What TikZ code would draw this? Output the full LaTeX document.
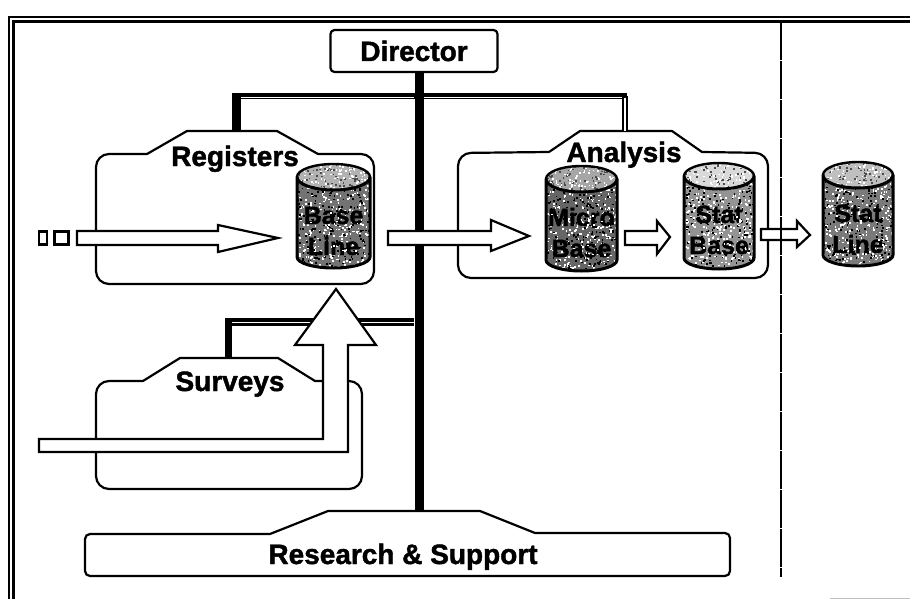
\documentclass[tikz,border=0pt]{standalone}
\usepackage{fontspec}
\newfontfamily\labf[BoldFeatures={FakeBold=1.5}]{Liberation Sans}
\tikzset{
  x=1pt,y=-1pt,
  panel/.style={draw=black,line width=2.2pt,fill=white,line join=round},
  block/.style={draw=black,line width=2.2pt,fill=white,line join=miter},
  lab/.style={font=\labf\bfseries\fontsize{28}{28}\selectfont,anchor=base,inner sep=0pt,text=black},
  cyltext/.style={font=\labf\bfseries\fontsize{25}{25}\selectfont,anchor=base,inner sep=0pt,text=black},
  thickbar/.style={draw=black,line width=9pt},
}
\newcommand{\specks}[6]{% x y w h count colour
  \foreach \i in {1,...,#5}{
    \pgfmathsetmacro{\sx}{#1+rnd*#3}
    \pgfmathsetmacro{\sy}{#2+rnd*#4}
    \fill[#6] (\sx,\sy) rectangle ++(1.7,1.7);
  }}
% name, left x, top y, width, height, top shade, body shade, line1, line2
\newcommand{\cyl}[9]{%
  \begin{scope}
    \clip (#2,#3+13) arc[x radius=#4/2,y radius=13,start angle=180,end angle=0]
      -- (#2+#4,#3+#5-11) arc[x radius=#4/2,y radius=11,start angle=0,end angle=180] -- cycle;
    \fill[black!#7] (#2,#3) rectangle ++(#4,#5);
    \specks{#2}{#3+10}{#4}{#5-10}{300}{white}
    \specks{#2}{#3+10}{#4}{#5-10}{240}{black}
    \node[cyltext] (#1a) at (#2+#4/2,#3+60) {#8};
    \node[cyltext] (#1b) at (#2+#4/2,#3+91) {#9};
    \specks{#2+4}{#3+40}{#4-8}{56}{35}{white}
  \end{scope}
  \begin{scope}
    \clip (#2,#3+13) arc[x radius=#4/2,y radius=13,start angle=180,end angle=0]
      arc[x radius=#4/2,y radius=13,start angle=0,end angle=-180] -- cycle;
    \fill[black!#6] (#2,#3) rectangle ++(#4,28);
    \specks{#2}{#3}{#4}{28}{70}{black!70}
    \specks{#2}{#3}{#4}{28}{90}{white}
  \end{scope}
  \draw[line width=3pt,line join=round] (#2,#3+13) arc[x radius=#4/2,y radius=13,start angle=180,end angle=0]
      -- (#2+#4,#3+#5-11) arc[x radius=#4/2,y radius=11,start angle=0,end angle=180] -- cycle;
  \draw[line width=2.4pt] (#2,#3+13) arc[x radius=#4/2,y radius=13,start angle=180,end angle=360];
}
\begin{document}
\begin{tikzpicture}
\pgfmathsetseed{4217}
\useasboundingbox (0,0) rectangle (910,599);
\fill[white] (0,0) rectangle (910,599);

% frame
\draw[line width=2.4pt] (9,599) -- (9,17) -- (910,17);
\draw[line width=2.4pt] (13.5,599) -- (13.5,21.5) -- (910,21.5);
\draw[line width=1pt,black!25] (830,598.5) -- (910,598.5);

% panels
\draw[panel] (147,154) -- (187,131) -- (277,131) -- (318,154) [rounded corners=13] -- (374,154) -- (374,284) -- (96,284) -- (96,154) -- (147,154);
\draw[panel] (549,152) -- (580,131) -- (672,131) -- (702,152) [rounded corners=13] -- (768,153) -- (768,278) -- (458,278) -- (458,153) -- (549,152);
\draw[panel] (143,381) -- (180,358) -- (278,358) -- (315,381) [rounded corners=13] -- (362,381) -- (362,489) -- (96,489) -- (96,381) -- (143,381);
\draw[panel] (270,534) -- (328,511) -- (480,511) -- (535,533) [rounded corners=5] -- (730,533) -- (730,576) -- (85,576) -- (85,534) -- (270,534);
\node[panel,minimum width=167pt,minimum height=42pt,rounded corners=4pt,inner sep=0pt] (director) at (414,51) {};

% connector anchors
\coordinate (trunktop) at (419,72);
\coordinate (trunkbot) at (419,511);
\coordinate (regbus) at (236.5,96.5);
\coordinate (regtop) at (236.5,131);
\coordinate (anabus) at (625,96.5);
\coordinate (anatop) at (625,131);
\coordinate (surbus) at (228,322);
\coordinate (surtop) at (228,358);

% connectors
\draw[thickbar] (trunktop) -- (trunkbot);
\draw[black,line width=9pt] (regbus) ++(0,-1) -- (regtop);
\draw[line width=6pt] (232,96.5) -- (627,96.5);
\draw[white,line width=1.2pt] (241,97.5) -- (414,97.5);
\draw[white,line width=1.2pt] (424,97.5) -- (622,97.5);
\draw[line width=6pt] (anabus) -- (anatop);
\draw[white,line width=1.4pt] (anabus) ++(0,1.5) -- (anatop);
\draw[line width=7pt] (surbus) ++(0,-4) -- (surtop);
\draw[line width=8pt] (225,322) -- (414,322);
\draw[white,line width=1.4pt] (232,322.5) -- (414,322.5);

% labels
\node[lab] (director text) at (414,61) {Director};
\node[lab] (registers) at (235,166) {Registers};
\node[lab] (analysis) at (624,162) {Analysis};
\node[lab] (surveys) at (230,391) {Surveys};
\node[lab] (research) at (403,564) {Research \& Support};

% cylinders
\cyl{baseline}{297}{164}{73}{104}{30}{55}{Base}{Line}
\cyl{microbase}{546}{166}{71}{105}{35}{60}{Micro}{Base}
\cyl{statbase}{684}{163}{70}{106}{15}{42}{Stat}{Base}
\cyl{statline}{823}{162}{70}{104}{25}{52}{Stat}{Line}

% small squares
\node[block,minimum width=8pt,minimum height=13pt,inner sep=0pt] (sq1) at (43,238) {};
\node[block,minimum width=14pt,minimum height=13pt,inner sep=0pt] (sq2) at (61.5,238) {};

% arrows
\draw[block] (77,231) -- (218,231) -- (218,225) -- (278,238) -- (218,252) -- (218,245) -- (77,245) -- cycle;
\draw[block] (388,231) -- (491,231) -- (491,220) -- (529,236) -- (491,251) -- (491,245) -- (388,245) -- cycle;
\draw[block] (625,231) -- (657,231) -- (657,221) -- (670,237) -- (657,254) -- (657,245) -- (625,245) -- cycle;
\draw[block] (761,229) -- (797,229) -- (797,221) -- (810,235) -- (797,247) -- (797,240) -- (761,240) -- cycle;
\draw[block] (39,439) -- (323,439) -- (323,345) -- (295,345) -- (336,289) -- (376,345) -- (348,345) -- (348,452) -- (39,452) -- cycle;

% divider
\draw[line width=2pt,dash pattern=on 38pt off 1pt] (781,22) -- (781,577);
\end{tikzpicture}
\end{document}
